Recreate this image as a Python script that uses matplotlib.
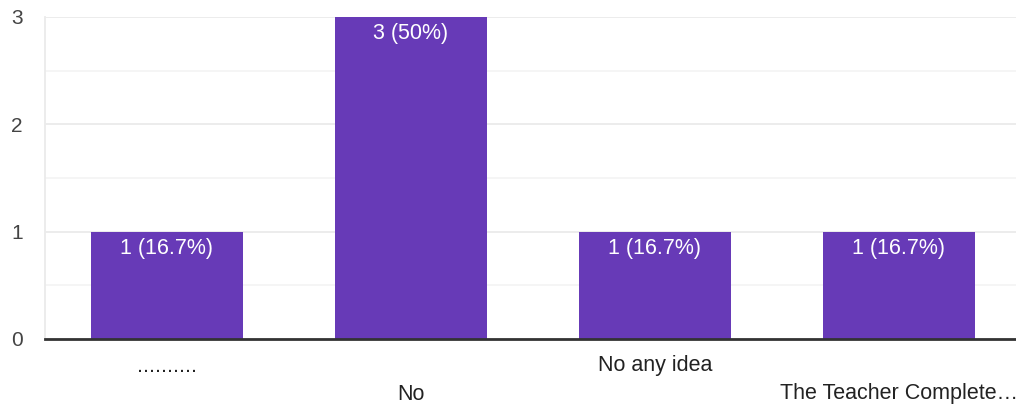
import matplotlib
matplotlib.use("Agg")
import matplotlib.pyplot as plt
from matplotlib.ticker import MultipleLocator

categories = ["..........", "No", "No any idea", "The Teacher Complete…"]
counts = [1, 3, 1, 1]
labels = ["1 (16.7%)", "3 (50%)", "1 (16.7%)", "1 (16.7%)"]
yticks = [0, 1, 2, 3]

plt.rcParams['font.family'] = ['Liberation Sans', 'DejaVu Sans']

W, H = 1016, 407
fig = plt.figure(figsize=(W / 100, H / 100), dpi=100)
left, right, top, bottom = 45, 1021, 17, 339
ax = fig.add_axes([left / W, 1 - bottom / H, (right - left) / W, (bottom - top) / H])

x = list(range(len(categories)))
bars = ax.bar(x, counts, width=0.625, color="#673ab7", zorder=3)
ax.set_xlim(-0.5, len(categories) - 0.5)
ax.set_ylim(0, 3)

ax.set_yticks(yticks)
ax.set_yticklabels([str(t) for t in yticks], fontsize=15, color="#444444")
ax.yaxis.set_minor_locator(MultipleLocator(0.5))
ax.tick_params(axis='y', length=0, pad=16, which='both')
ax.grid(axis='y', which='major', color="#ebebeb", linewidth=1.3, zorder=0)
ax.grid(axis='y', which='minor', color="#f5f5f5", linewidth=1.3, zorder=0)

for s in ["top", "right"]:
    ax.spines[s].set_visible(False)
ax.spines["left"].set_color("#ebebeb")
ax.spines["left"].set_linewidth(1.3)
ax.spines["bottom"].set_color("#333333")
ax.spines["bottom"].set_linewidth(2)
ax.spines["bottom"].set_zorder(4)

ax.set_xticks([])
for i, (xi, c) in enumerate(zip(x, categories)):
    off = -27 if i % 2 == 0 else -55
    ax.annotate(c, xy=(xi, 0), xytext=(0, off), textcoords="offset pixels",
                ha="center", va="center", fontsize=15.5, color="#222222")

for b, lab in zip(bars, labels):
    ax.annotate(lab, xy=(b.get_x() + b.get_width() / 2, b.get_height()), xytext=(0, -17),
                textcoords="offset pixels", ha="center", va="center", fontsize=15.5,
                color="white", zorder=5)

fig.savefig("out.png", dpi=100)
